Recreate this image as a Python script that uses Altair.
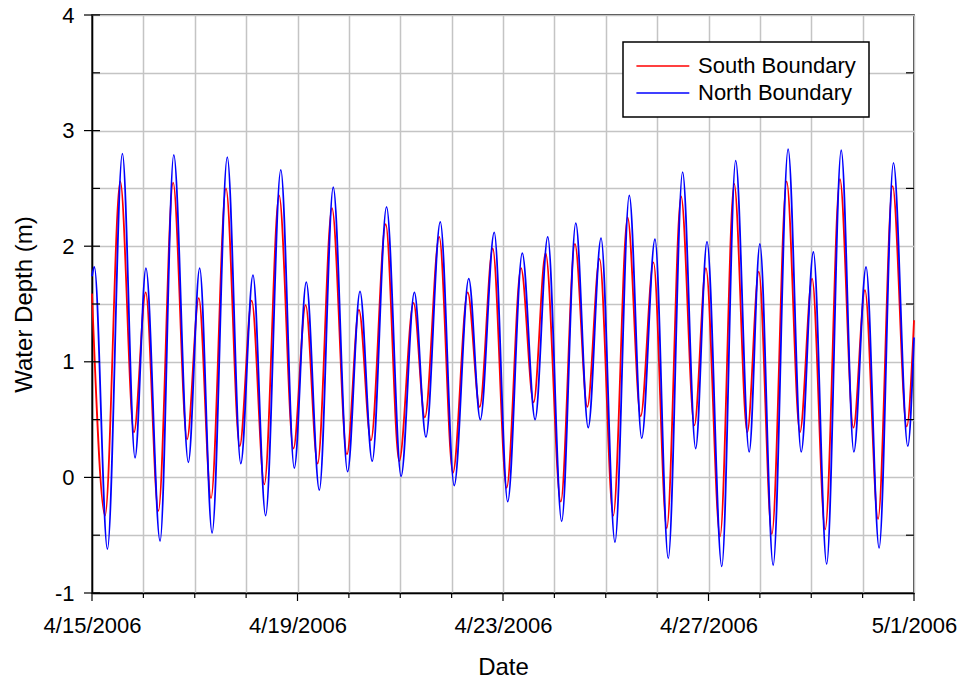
import altair as alt
import pandas as pd

# Tide record start; series times are hours after this moment
START = "2006-04-15 00:00"

# South Boundary: turning points of the water level (hours, metres)
south_hours = [0, 6.1, 13.2, 19.6, 25.1, 31.0, 37.9, 44.4, 49.9, 55.6,
               62.6, 69.0, 74.6, 80.5, 87.4, 94.1, 99.8, 105.4, 112.1, 119.1,
               124.7, 130.3, 137.2, 143.5, 150.2, 155.5, 162.2, 168.6, 175.5, 181.1,
               187.2, 193.7, 200.4, 206.3, 211.9, 219.0, 225.6, 231.4, 237.1, 243.5,
               250.2, 256.3, 262.3, 268.5, 275.2, 281.4, 286.8, 293.4, 300.0, 306.1,
               311.5, 317.6, 324.5, 330.7, 336.4, 342.5, 349.4, 355.7, 361.1, 367.2,
               374.0, 380.6, 384.0]
south_depth = [1.59, -0.33, 2.56, 0.39, 1.60, -0.29, 2.55, 0.33, 1.55, -0.18,
               2.50, 0.27, 1.53, -0.06, 2.44, 0.25, 1.49, 0.12, 2.33, 0.20,
               1.45, 0.32, 2.19, 0.14, 1.51, 0.52, 2.08, 0.04, 1.60, 0.61,
               1.98, -0.09, 1.81, 0.65, 1.94, -0.21, 2.02, 0.61, 1.89, -0.33,
               2.25, 0.53, 1.86, -0.44, 2.43, 0.45, 1.81, -0.51, 2.54, 0.39,
               1.78, -0.49, 2.56, 0.39, 1.72, -0.45, 2.58, 0.43, 1.62, -0.36,
               2.52, 0.44, 1.36]

# North Boundary: turning points of the water level (hours, metres)
north_hours = [0, 1.1, 7.2, 14.2, 20.1, 25.2, 31.8, 38.2, 45.0, 50.3,
               56.1, 63.2, 69.5, 75.2, 81.1, 88.2, 94.5, 100.1, 106.2, 112.7,
               119.4, 125.2, 130.9, 137.6, 144.4, 150.6, 156.0, 162.7, 169.2, 176.0,
               181.4, 187.9, 194.2, 201.0, 207.0, 212.9, 219.4, 226.0, 231.8, 237.8,
               244.3, 251.0, 256.8, 263.0, 269.2, 275.9, 282.0, 287.3, 294.2, 300.7,
               307.0, 312.0, 318.2, 325.2, 331.3, 337.0, 343.2, 350.0, 355.9, 361.6,
               367.7, 374.4, 381.1, 384.0]
north_depth = [1.74, 1.82, -0.62, 2.80, 0.17, 1.81, -0.55, 2.79, 0.13, 1.81,
               -0.48, 2.77, 0.12, 1.75, -0.33, 2.66, 0.08, 1.69, -0.11, 2.51,
               0.05, 1.61, 0.14, 2.34, 0.01, 1.60, 0.35, 2.21, -0.07, 1.72,
               0.50, 2.12, -0.21, 1.94, 0.50, 2.08, -0.38, 2.20, 0.43, 2.07,
               -0.56, 2.44, 0.34, 2.06, -0.70, 2.64, 0.25, 2.04, -0.77, 2.74,
               0.22, 2.02, -0.76, 2.84, 0.22, 1.95, -0.75, 2.83, 0.22, 1.82,
               -0.61, 2.72, 0.27, 1.21]

series_names = ["South Boundary", "North Boundary"]
series_colors = ["#ff0000", "#0000ff"]

# Axis ticks: one per day, labelled every four days; depth every 0.5 m
day_ticks = pd.date_range("2006-04-15", "2006-05-01", freq="D")
labelled_days = ["2006-04-15", "2006-04-19", "2006-04-23", "2006-04-27", "2006-05-01"]
depth_ticks = [-1, -0.5, 0, 0.5, 1, 1.5, 2, 2.5, 3, 3.5, 4]

W, H = 822, 578
FONT = "Liberation Sans"


def series_frame(hours, depth, name):
    return pd.DataFrame({
        "date": pd.Timestamp(START) + pd.to_timedelta(hours, unit="h"),
        "depth": depth,
        "series": name,
    })


south = series_frame(south_hours, south_depth, series_names[0])
north = series_frame(north_hours, north_depth, series_names[1])

x_scale = alt.Scale(domain=[alt.DateTime(year=2006, month=4, date=15),
                            alt.DateTime(year=2006, month=5, date=1)], nice=False)
y_scale = alt.Scale(domain=[-1, 4], nice=False, zero=False)
color_scale = alt.Scale(domain=series_names, range=series_colors)

x_axis = alt.Axis(
    title="Date",
    values=[alt.DateTime(year=d.year, month=d.month, date=d.day) for d in day_ticks],
    labelExpr="(month(datum.value) == 4 || date(datum.value) % 4 == 3) ? "
              "(month(datum.value) + 1) + '/' + date(datum.value) + '/' + year(datum.value) : ''",
    labelOverlap=False, labelFlush=False,
    ticks=False, tickSize=0,
    labelPadding=22, titlePadding=19,
    grid=True,
)
y_axis = alt.Axis(
    title="Water Depth (m)",
    values=depth_ticks,
    labelExpr="datum.value % 1 == 0 ? '' + datum.value : ''",
    labelFlush=False,
    ticks=False, tickSize=0,
    labelPadding=18, titlePadding=18,
    grid=True,
)
X = alt.X("date:T", scale=x_scale, axis=x_axis)
Y = alt.Y("depth:Q", scale=y_scale, axis=y_axis)
legend = alt.Legend(title=None)


def tide_line(frame):
    return alt.Chart(frame).mark_line(interpolate="monotone", strokeWidth=1.8).encode(
        x=X, y=Y,
        color=alt.Color("series:N", scale=color_scale, legend=legend),
    )


# Tick marks drawn along the frame
day_df = pd.DataFrame({"date": day_ticks})
day_df["major"] = day_df["date"].dt.strftime("%Y-%m-%d").isin(labelled_days)
depth_df = pd.DataFrame({"depth": depth_ticks})
depth_df["major"] = depth_df["depth"] % 1 == 0

tick_style = dict(color="black", strokeWidth=1.2)
minor_x = alt.Chart(day_df[~day_df["major"]]).mark_rule(**tick_style).encode(
    x=X, y=alt.value(H), y2=alt.value(H + 5))
major_x = alt.Chart(day_df[day_df["major"]]).mark_rule(**tick_style).encode(
    x=X, y=alt.value(H), y2=alt.value(H + 8))
left_in = alt.Chart(depth_df).mark_rule(**tick_style).encode(
    y=Y, x=alt.value(0), x2=alt.value(8))
left_out = alt.Chart(depth_df[depth_df["major"]]).mark_rule(**tick_style).encode(
    y=Y, x=alt.value(-8), x2=alt.value(0))
right_in = alt.Chart(depth_df[~depth_df["major"]]).mark_rule(**tick_style).encode(
    y=Y, x=alt.value(W - 8), x2=alt.value(W))

chart = alt.layer(
    tide_line(south),
    tide_line(north),
    minor_x, major_x, left_in, left_out, right_in,
).properties(
    width=W, height=H,
    autosize=alt.AutoSizeParams(type="none"),
    padding={"left": 92, "top": 15, "right": 45, "bottom": 94},
).configure_view(
    stroke="black", strokeWidth=1.5,
).configure_axis(
    domainColor="black", domainWidth=1.5,
    gridColor="#c4c4c4", gridWidth=1.5,
    labelFont=FONT, labelFontSize=22, labelColor="black",
    titleFont=FONT, titleFontSize=24, titleFontWeight="normal", titleColor="black",
).configure_legend(
    orient="none", legendX=531, legendY=27,
    strokeColor="black", strokeWidth=1.5, fillColor="white",
    padding=13, rowPadding=5,
    # short custom path stretched to a long line sample
    symbolType="M-2,0H8", symbolSize=112, symbolStrokeWidth=1.6,
    labelFont=FONT, labelFontSize=22, labelColor="black", labelOffset=40,
)

chart.save("out.html", embed_options={"renderer": "svg", "actions": False})
